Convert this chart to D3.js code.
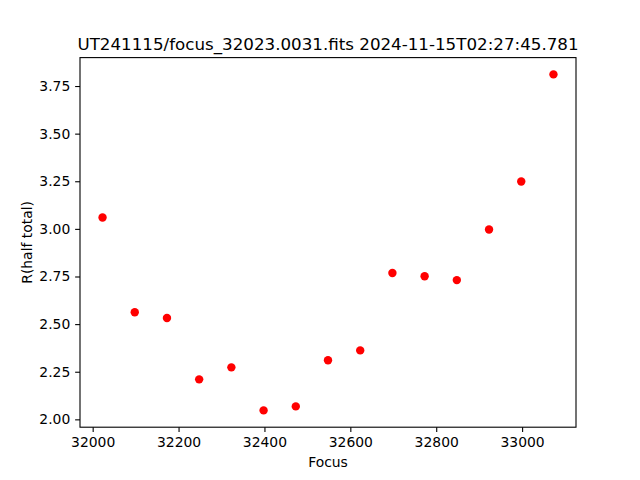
<!DOCTYPE html>
<html><head><meta charset="utf-8">
<script src="https://cdn.jsdelivr.net/npm/d3@7"></script>
<style>body{margin:0;background:#fff}svg{display:block}text{font-family:"DejaVu Sans",sans-serif}</style>
</head><body>
<svg id="c" width="640" height="480"></svg>
<script>
const focusValues = [32023,32098,32173,32248,32323,32398,32473,32548,32623,32698,32773,32848,32923,32998,33073];
const rValues = [3.060,2.562,2.532,2.210,2.273,2.047,2.068,2.310,2.362,2.768,2.751,2.731,2.997,3.249,3.811];
const xTicks = [32000,32200,32400,32600,32800,33000];
const yTicks = [2.00,2.25,2.50,2.75,3.00,3.25,3.50,3.75];
const titleText = "UT241115/focus_32023.0031.fits 2024-11-15T02:27:45.781";

const svg = d3.select("#c");
const L=80,R=576,T=57.6,B=427.2;
const xMin=d3.min(focusValues), xMax=d3.max(focusValues), xr=xMax-xMin;
const yMin=d3.min(rValues), yMax=d3.max(rValues), yr=yMax-yMin;
const x=d3.scaleLinear().domain([xMin-0.05*xr,xMax+0.05*xr]).range([L,R]);
const y=d3.scaleLinear().domain([yMin-0.05*yr,yMax+0.05*yr]).range([B,T]);
const tl=4.86;
const gx=svg.append("g").attr("transform",`translate(0,${B})`)
  .call(d3.axisBottom(x).tickValues(xTicks).tickFormat(d3.format("d")).tickSize(tl).tickPadding(4.86).tickSizeOuter(0));
const gy=svg.append("g").attr("transform",`translate(${L},0)`)
  .call(d3.axisLeft(y).tickValues(yTicks).tickFormat(d3.format(".2f")).tickSize(tl).tickPadding(4.86).tickSizeOuter(0));
[gx,gy].forEach(g=>{g.select(".domain").remove();g.selectAll("line").attr("stroke","#000").attr("stroke-width",1.1);
  g.selectAll("text").attr("font-size","13.9px").attr("fill","#000").style("font-family","DejaVu Sans");});
svg.append("rect").attr("x",L).attr("y",T).attr("width",R-L).attr("height",B-T)
  .attr("fill","none").attr("stroke","#000").attr("stroke-width",1.1);
svg.append("g").selectAll("circle").data(focusValues).join("circle")
  .attr("cx",d=>x(d)).attr("cy",(d,i)=>y(rValues[i])).attr("r",4.2).attr("fill","#ff0000");
svg.append("text").attr("x",(L+R)/2).attr("y",49.5).attr("text-anchor","middle").attr("font-size","16.7px").text(titleText);
svg.append("text").attr("x",(L+R)/2).attr("y",467).attr("text-anchor","middle").attr("font-size","13.9px").text("Focus");
svg.append("text").attr("transform",`translate(31.5,${(T+B)/2}) rotate(-90)`).attr("text-anchor","middle").attr("font-size","13.9px").text("R(half total)");
</script>
</body></html>
